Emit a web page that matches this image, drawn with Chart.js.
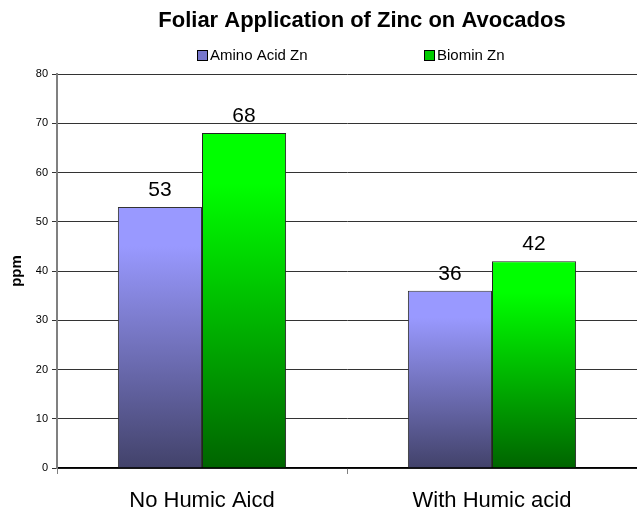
<!DOCTYPE html>
<html>
<head>
<meta charset="utf-8">
<script src="https://cdn.jsdelivr.net/npm/chart.js@4"></script>
<style>
html,body{margin:0;padding:0;background:#fff;}
#wrap{width:637px;height:514px;position:relative;}
</style>
</head>
<body>
<div id="wrap"><canvas id="c" width="637" height="514"></canvas></div>
<script>
const categories = ["No Humic Aicd", "With Humic acid"];
const aminoAcidZn = [53, 36];
const biominZn = [68, 42];
const seriesNames = ["Amino Acid Zn", "Biomin Zn"];
const chartTitle = "Foliar Application of Zinc on Avocados";
const yTitle = "ppm";

const FONT = "'Liberation Sans', Arial, sans-serif";

function barGradient(ctx, light, dark) {
  const chart = ctx.chart;
  const area = chart.chartArea;
  if (!area || ctx.type !== 'data') return light;
  const ys = chart.scales.y;
  const top = ys.getPixelForValue(ctx.raw);
  const base = ys.getPixelForValue(0);
  if (!isFinite(top) || !isFinite(base) || base - top < 1) return light;
  const g = chart.ctx.createLinearGradient(0, top, 0, base);
  g.addColorStop(0, light);
  g.addColorStop(0.15, light);
  g.addColorStop(1, dark);
  return g;
}

const decor = {
  id: 'decor',
  afterDraw(chart) {
    const c = chart.ctx;
    const a = chart.chartArea;
    c.save();
    // title
    c.fillStyle = '#000';
    c.font = "bold 22px " + FONT;
    c.textAlign = 'center';
    c.textBaseline = 'middle';
    c.fillText(chartTitle, 362, 21);
    // legend
    const legendItems = [
      {text: seriesNames[0], color: '#7777cc', x: 197},
      {text: seriesNames[1], color: '#00cc00', x: 424}
    ];
    c.font = "15px " + FONT;
    c.textAlign = 'left';
    legendItems.forEach(it => {
      c.fillStyle = it.color;
      c.fillRect(it.x, 50, 10, 10);
      c.strokeStyle = '#000';
      c.lineWidth = 1;
      c.strokeRect(it.x + 0.5, 50.5, 10, 10);
      c.fillStyle = '#000';
      c.fillText(it.text, it.x + 13, 56);
    });
    // y title
    c.save();
    c.translate(17, (a.top + a.bottom) / 2);
    c.rotate(-Math.PI / 2);
    c.font = "bold 15px " + FONT;
    c.textAlign = 'center';
    c.textBaseline = 'middle';
    c.fillText(yTitle, 0, 0);
    c.restore();
    // data labels
    c.font = "21px " + FONT;
    c.textAlign = 'center';
    c.textBaseline = 'alphabetic';
    c.fillStyle = '#000';
    chart.data.datasets.forEach((ds, di) => {
      const meta = chart.getDatasetMeta(di);
      meta.data.forEach((bar, i) => {
        c.fillText(String(ds.data[i]), bar.x, bar.y - 11);
      });
    });
    c.restore();
  }
};

new Chart(document.getElementById('c'), {
  type: 'bar',
  data: {
    labels: categories,
    datasets: [
      {
        label: seriesNames[0],
        data: aminoAcidZn,
        backgroundColor: ctx => barGradient(ctx, '#9999ff', '#42426a'),
        borderColor: '#333333',
        borderWidth: 1,
        borderSkipped: 'bottom',
        categoryPercentage: 0.58,
        barPercentage: 1.0
      },
      {
        label: seriesNames[1],
        data: biominZn,
        backgroundColor: ctx => barGradient(ctx, '#00ff00', '#006400'),
        borderColor: '#222222',
        borderWidth: 1,
        borderSkipped: 'bottom',
        categoryPercentage: 0.58,
        barPercentage: 1.0
      }
    ]
  },
  options: {
    responsive: false,
    animation: false,
    layout: {padding: {top: 74, right: 0, left: 0, bottom: 0}},
    plugins: {
      legend: {display: false},
      title: {display: false},
      tooltip: {enabled: false}
    },
    scales: {
      x: {
        offset: true,
        afterFit: s => { s.height = 46; },
        grid: {
          offset: true,
          drawOnChartArea: false,
          drawTicks: true,
          tickLength: 6,
          color: '#808080'
        },
        border: {display: true, color: '#000', width: 1.5},
        ticks: {
          color: '#000',
          font: {family: FONT, size: 22},
          padding: 14
        }
      },
      y: {
        min: 0,
        max: 80,
        afterFit: s => { s.width = 57; },
        ticks: {
          stepSize: 10,
          color: '#000',
          font: {family: FONT, size: 11},
          padding: 4
        },
        grid: {
          color: '#333333',
          lineWidth: 1,
          tickLength: 5
        },
        border: {display: true, color: '#808080', width: 2}
      }
    }
  },
  plugins: [decor]
});
</script>
</body>
</html>
